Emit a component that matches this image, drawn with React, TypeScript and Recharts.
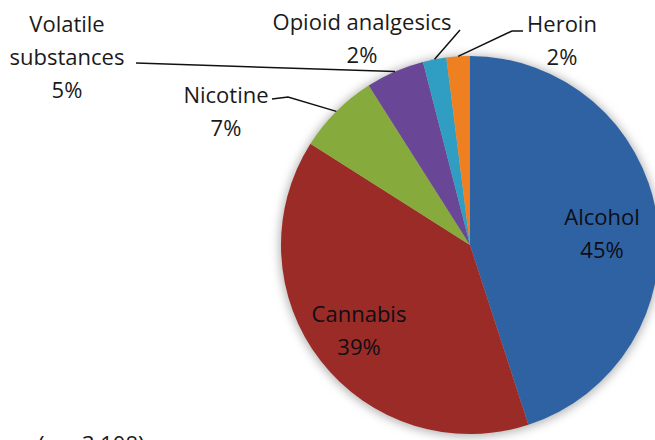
import { PieChart, Pie, Cell } from "recharts";

const categories = [
  "Alcohol",
  "Cannabis",
  "Nicotine",
  "Volatile substances",
  "Opioid analgesics",
  "Heroin",
];
const shares = [45, 39, 7, 5, 2, 2];
const colors = ["#2f62a3", "#9b2b27", "#87aa3c", "#6a4696", "#2f9ec2", "#ef8022"];
const footnote = "(n = 3 108)";

const data = categories.map((name, i) => ({ name, value: shares[i] }));

// where Excel put each label: centre x, first baseline, optional leader bends
const labelLayout: {
  x: number;
  y: number;
  lines?: string[];
  leader?: [number, number][];
}[] = [
  { x: 602, y: 225 },
  { x: 359, y: 322 },
  { x: 226, y: 103, leader: [[272, 99], [288, 97]] },
  { x: 67, y: 32, lines: ["Volatile", "substances"], leader: [[136, 63]] },
  { x: 362, y: 30, leader: [[460, 30]] },
  { x: 562, y: 32, leader: [[523, 31], [512, 31]] },
];

const FONT = "'Open Sans', sans-serif";
const LINE_H = 32;
const RAD = Math.PI / 180;

function renderLabel(props: any) {
  const { cx, cy, midAngle, outerRadius, index, value, name } = props;
  const lay = labelLayout[index];
  const lines = [...(lay.lines ?? [name]), `${value}%`];
  let leader = null;
  if (lay.leader) {
    const ax = cx + outerRadius * Math.cos(-midAngle * RAD);
    const ay = cy + outerRadius * Math.sin(-midAngle * RAD);
    const pts = [...lay.leader, [ax, ay]].map((p) => p.join(",")).join(" ");
    leader = <polyline points={pts} fill="none" stroke="#111" strokeWidth={1.5} />;
  }
  return (
    <g key={`lbl-${index}`}>
      {leader}
      {lines.map((t, j) => (
        <text
          key={j}
          x={lay.x}
          y={lay.y + j * (LINE_H + 1)}
          textAnchor="middle"
          fontFamily={FONT}
          fontSize={22}
          fill={lay.leader ? "#1a1a1a" : "#0e0e14"}
        >
          {t}
        </text>
      ))}
    </g>
  );
}

export default function App() {
  return (
    <div
      style={{
        position: "absolute",
        left: 0,
        top: 0,
        width: 655,
        height: 440,
        overflow: "hidden",
        background: "#fff",
      }}
    >
      <style>{`.pie-glow { filter: blur(3px); }`}</style>
      <PieChart width={655} height={440} margin={{ top: 0, right: 0, bottom: 0, left: 0 }}>
        <Pie
          className="pie-glow"
          data={[{ name: "all", value: 1 }]}
          dataKey="value"
          cx={470}
          cy={246}
          outerRadius={191}
          startAngle={90}
          endAngle={-270}
          fill="#b8b8b8"
          stroke="none"
          isAnimationActive={false}
        />
        <Pie
          data={data}
          dataKey="value"
          nameKey="name"
          cx={470}
          cy={245}
          outerRadius={189}
          startAngle={90}
          endAngle={-270}
          stroke="none"
          label={renderLabel}
          labelLine={false}
          isAnimationActive={false}
        >
          {data.map((_d, i) => (
            <Cell key={i} fill={colors[i]} />
          ))}
        </Pie>
        <text x={38} y={452} fontFamily={FONT} fontSize={22} fill="#1a1a1a">
          {footnote}
        </text>
      </PieChart>
    </div>
  );
}
